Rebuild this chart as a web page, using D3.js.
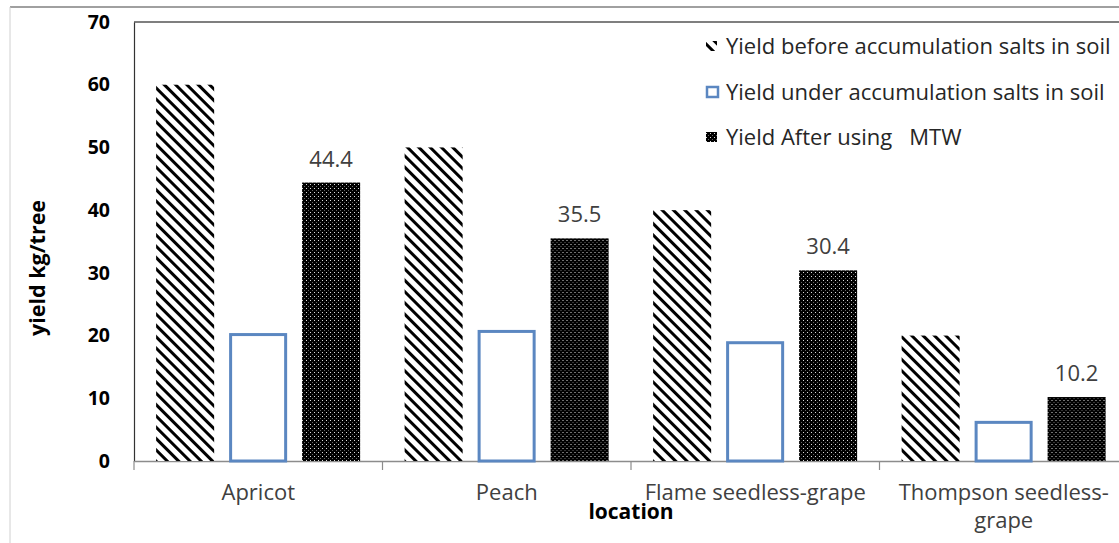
<!DOCTYPE html>
<html lang="en">
<head>
  <meta charset="UTF-8">
  <title>Yield chart</title>
  <script src="https://cdn.jsdelivr.net/npm/d3@7/dist/d3.min.js"></script>
  <style>
    body { margin: 0; background: #fff; }
    .chart svg { display: block; background: #fff; }
    text { font-family: "Open Sans", "Noto Sans", sans-serif; }
  </style>
</head>
<body>
<div class="chart"></div>
<script>
  const categories = ['Apricot', 'Peach', 'Flame seedless-grape', 'Thompson seedless-grape'];
  const seriesNames = [
    'Yield before accumulation salts in soil',
    'Yield under accumulation salts in soil',
    'Yield After using   MTW'
  ];
  const before = [60, 50, 40, 20];
  const under = [20.4, 20.9, 19.1, 6.4];
  const after = [44.4, 35.5, 30.4, 10.2];
  const yTicks = [0, 10, 20, 30, 40, 50, 60, 70];

  const W = 1119, H = 543;
  const plot = {left: 134, right: 1128, top: 22, bottom: 461};

  const svg = d3.select('.chart').append('svg')
    .attr('width', W).attr('height', H);

  // patterns
  const defs = svg.append('defs');
  const hatch = defs.append('pattern')
    .attr('id', 'hatch').attr('patternUnits', 'userSpaceOnUse')
    .attr('width', 8).attr('height', 8)
    .attr('patternTransform', 'rotate(-45)');
  hatch.append('rect').attr('width', 8).attr('height', 8).attr('fill', '#fff');
  hatch.append('rect').attr('x', 0).attr('y', 0).attr('width', 3).attr('height', 8).attr('fill', '#000');

  const dots = defs.append('pattern')
    .attr('id', 'dots').attr('patternUnits', 'userSpaceOnUse')
    .attr('width', 4).attr('height', 4);
  dots.append('rect').attr('width', 4).attr('height', 4).attr('fill', '#000');
  dots.append('rect').attr('x', 0).attr('y', 0).attr('width', 1).attr('height', 1).attr('fill', '#ddd');
  dots.append('rect').attr('x', 2).attr('y', 2).attr('width', 1).attr('height', 1).attr('fill', '#666');

  // outer frame
  svg.append('line').attr('x1', 10).attr('x2', W).attr('y1', 7).attr('y2', 7)
    .attr('stroke', '#a0a0a0').attr('stroke-width', 2);
  svg.append('line').attr('x1', 10).attr('x2', 10).attr('y1', 7).attr('y2', H)
    .attr('stroke', '#d0d0d0').attr('stroke-width', 1);

  const y = d3.scaleLinear().domain([0, 70]).range([plot.bottom, plot.top]);
  const x0 = d3.scaleBand().domain(categories).range([plot.left, plot.right]).padding(0);
  const bw = x0.bandwidth();
  const x1 = d3.scaleBand().domain([0, 1, 2]).range([bw * 0.089, bw * 0.91])
    .paddingInner(0.205).paddingOuter(0);

  // plot top border + left axis
  svg.append('line').attr('x1', plot.left).attr('x2', W).attr('y1', plot.top).attr('y2', plot.top)
    .attr('stroke', '#555').attr('stroke-width', 1.5);

  const yAxis = d3.axisLeft(y).tickValues(yTicks).tickSize(0).tickPadding(24);
  const gy = svg.append('g').attr('transform', `translate(${plot.left},0)`).call(yAxis);
  gy.select('.domain').attr('stroke', '#333').attr('stroke-width', 1.2);
  gy.selectAll('text').attr('font-family', '"DejaVu Sans", sans-serif')
    .attr('font-weight', 'bold').attr('font-size', 19.5).attr('fill', '#000');

  // x axis
  const xAxis = d3.axisBottom(x0).tickSize(0).tickFormat('');
  const gx = svg.append('g').attr('transform', `translate(0,${plot.bottom})`).call(xAxis);
  gx.select('.domain').attr('stroke', '#8c8c8c').attr('stroke-width', 1.5);
  const bounds = categories.map(c => x0(c)).concat([plot.right]);
  gx.selectAll('.bound').data(bounds).enter().append('line')
    .attr('x1', d => d).attr('x2', d => d).attr('y1', 0).attr('y2', 9)
    .attr('stroke', '#8c8c8c').attr('stroke-width', 1.2);

  // category labels
  const catLines = {
    'Apricot': ['Apricot'],
    'Peach': ['Peach'],
    'Flame seedless-grape': ['Flame seedless-grape'],
    'Thompson seedless-grape': ['Thompson seedless-', 'grape']
  };
  categories.forEach(c => {
    const t = svg.append('text')
      .attr('x', x0(c) + bw / 2).attr('y', 500)
      .attr('text-anchor', 'middle').attr('font-size', 22).attr('fill', '#404040');
    catLines[c].forEach((l, i) => {
      t.append('tspan').attr('x', x0(c) + bw / 2).attr('dy', i === 0 ? 0 : 28).text(l);
    });
  });

  // bars
  const rows = categories.map((c, i) => ({cat: c, vals: [before[i], under[i], after[i]]}));
  const fills = ['url(#hatch)', '#fff', 'url(#dots)'];
  const grp = svg.selectAll('g.cat').data(rows).enter().append('g')
    .attr('class', 'cat')
    .attr('transform', d => `translate(${x0(d.cat)},0)`);
  grp.selectAll('rect').data(d => d.vals.map((v, k) => ({v, k}))).enter().append('rect')
    .attr('x', d => x1(d.k) + (d.k === 1 ? 1.5 : 0))
    .attr('width', d => x1.bandwidth() - (d.k === 1 ? 3 : 0))
    .attr('y', d => y(d.v) + (d.k === 1 ? 1.5 : 0))
    .attr('height', d => y(0) - y(d.v) - (d.k === 1 ? 1.5 : 0))
    .attr('fill', d => fills[d.k])
    .attr('stroke', d => d.k === 1 ? '#5b87c1' : 'none')
    .attr('stroke-width', 3);

  // data labels on the MTW bars
  grp.append('text')
    .attr('x', x1(2) + x1.bandwidth() / 2)
    .attr('y', d => y(d.vals[2]) - 16)
    .attr('text-anchor', 'middle').attr('font-size', 22).attr('fill', '#404040')
    .text(d => d.vals[2].toFixed(1));

  // axis titles
  svg.append('text').attr('transform', 'translate(45,268) rotate(-90)')
    .attr('text-anchor', 'middle').attr('font-weight', 'bold').attr('font-size', 21.5)
    .attr('fill', '#000').text('yield kg/tree');
  svg.append('text').attr('x', (plot.left + plot.right) / 2).attr('y', 519)
    .attr('text-anchor', 'middle').attr('font-weight', 'bold').attr('font-size', 21)
    .attr('fill', '#000').text('location');

  // legend
  const legY = [46, 92, 137];
  const leg = svg.selectAll('g.leg').data(seriesNames).enter().append('g')
    .attr('class', 'leg').attr('transform', (d, i) => `translate(706,${legY[i]})`);
  leg.append('rect')
    .attr('x', (d, i) => i === 1 ? 1 : 0).attr('y', -5)
    .attr('width', 11).attr('height', 10)
    .attr('fill', (d, i) => fills[i])
    .attr('stroke', (d, i) => i === 1 ? '#5b87c1' : 'none').attr('stroke-width', 2.5);
  leg.append('text').attr('x', 20).attr('y', 0).attr('dy', '0.35em')
    .attr('font-size', 22).attr('fill', '#262626')
    .attr('xml:space', 'preserve').style('white-space', 'pre')
    .text(d => d);
</script>
</body>
</html>
